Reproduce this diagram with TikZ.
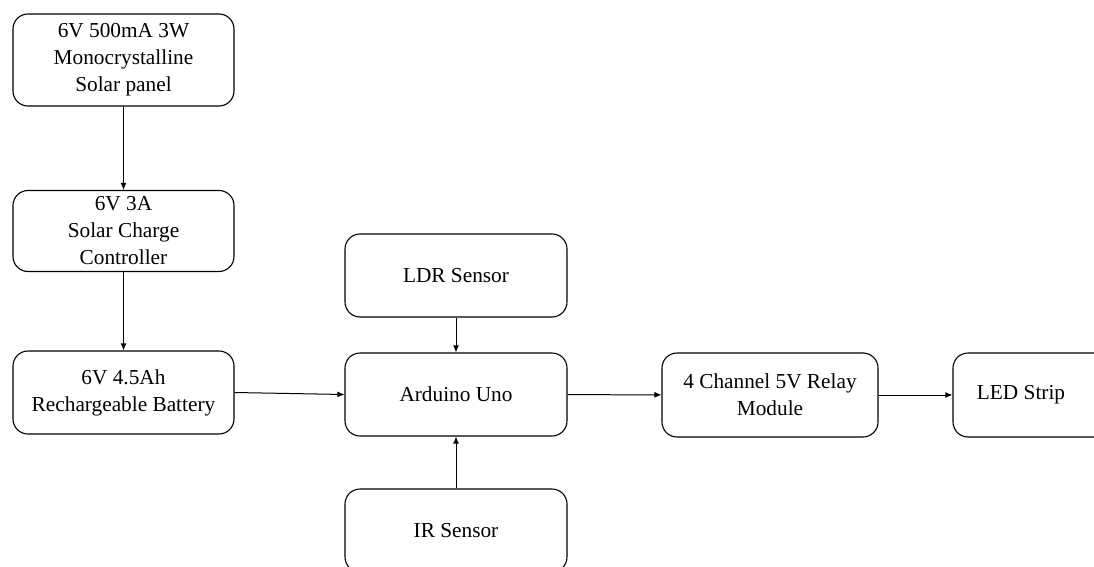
\documentclass[tikz,border=0pt]{standalone}
\usepackage{fontspec}
\setmainfont{Liberation Serif}
\usetikzlibrary{arrows.meta}

\begin{document}
\begin{tikzpicture}[x=1pt,y=-1pt,
    block/.style={draw,rounded corners=15pt,line width=1.1pt,align=center,
        minimum width=221pt,minimum height=83pt,inner sep=2pt,
        font=\fontsize{21.3}{27}\selectfont},
    link/.style={line width=1pt,-{Latex[length=7pt,width=6pt]}}]
    \useasboundingbox (0,0) rectangle (1094,567);
    \clip (0,0) rectangle (1094,567);

    \node (solar) at (123.5,60) [block,minimum height=92pt] {6V 500mA 3W\\Monocrystalline\\Solar panel};
    \node (ctrl) at (123.5,231) [block,minimum height=81pt] {6V 3A\\Solar Charge\\Controller};
    \node (batt) at (123.5,392.5) [block] {6V 4.5Ah\\Rechargeable Battery};

    \node (ldr) at (456,275.5) [block,minimum width=222pt] {LDR Sensor};
    \node (ard) at (456,394.5) [block,minimum width=222pt] {Arduino Uno};
    \node (ir) at (456,530.5) [block,minimum width=222pt] {IR Sensor};

    \node (relay) at (770,395) [block,minimum width=216pt,minimum height=84pt] {4 Channel 5V Relay\\Module};
    \node (led) at (1064,395) [block,minimum width=222pt,minimum height=84pt] {\hspace*{-86pt}LED Strip};

    \draw[link] (solar) -- (ctrl);
    \draw[link] (ctrl) -- (batt);
    \draw[link] (batt.east) -- (ard.west);
    \draw[link] (ldr) -- (ard);
    \draw[link] (ir) -- (ard);
    \draw[link] (ard) -- (relay);
    \draw[link] (relay) -- (led);
\end{tikzpicture}
\end{document}
